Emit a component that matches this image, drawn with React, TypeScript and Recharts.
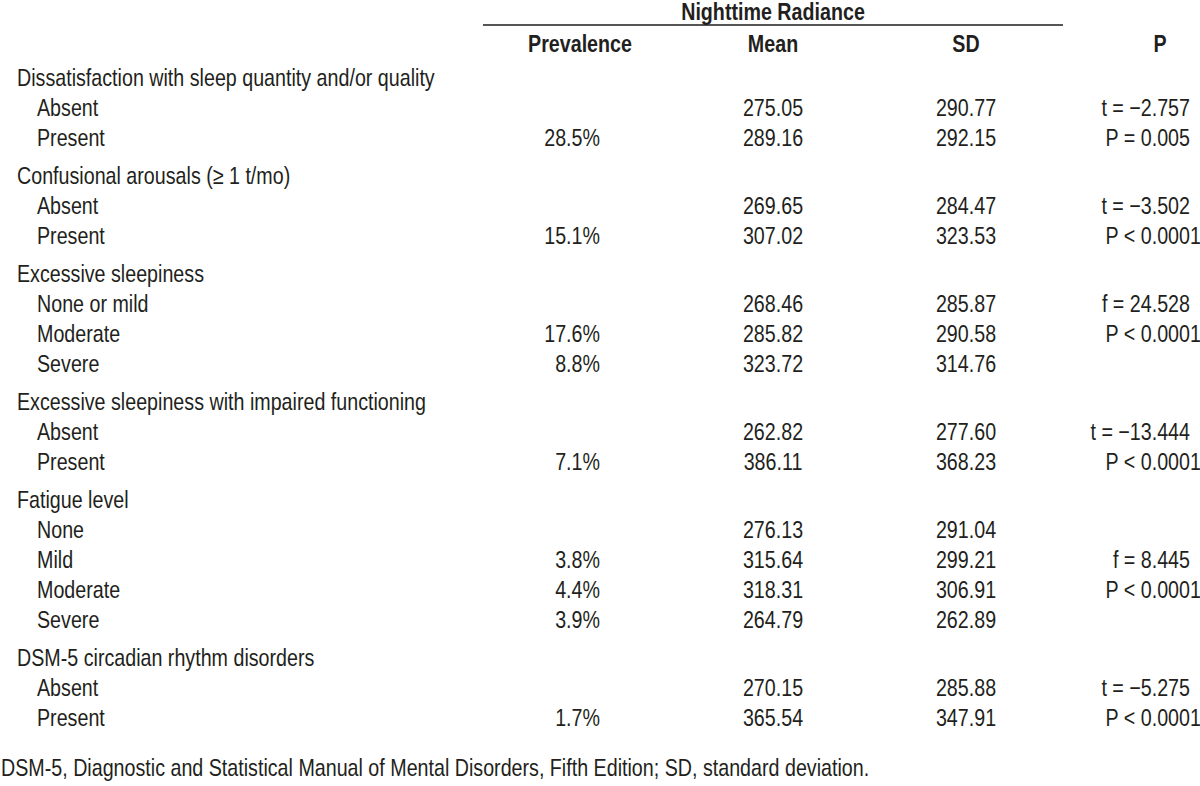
import { ReferenceLine, Scatter, ScatterChart, XAxis, YAxis } from "recharts";

// table content
const groups = [
  "Dissatisfaction with sleep quantity and/or quality",
  "Confusional arousals (≥ 1 t/mo)",
  "Excessive sleepiness",
  "Excessive sleepiness with impaired functioning",
  "Fatigue level",
  "DSM-5 circadian rhythm disorders",
];

const levels = [
  ["Absent", "Present"],
  ["Absent", "Present"],
  ["None or mild", "Moderate", "Severe"],
  ["Absent", "Present"],
  ["None", "Mild", "Moderate", "Severe"],
  ["Absent", "Present"],
];

const prevalence = [
  [null, 28.5],
  [null, 15.1],
  [null, 17.6, 8.8],
  [null, 7.1],
  [null, 3.8, 4.4, 3.9],
  [null, 1.7],
];

const means = [
  [275.05, 289.16],
  [269.65, 307.02],
  [268.46, 285.82, 323.72],
  [262.82, 386.11],
  [276.13, 315.64, 318.31, 264.79],
  [270.15, 365.54],
];

const sds = [
  [290.77, 292.15],
  [284.47, 323.53],
  [285.87, 290.58, 314.76],
  [277.6, 368.23],
  [291.04, 299.21, 306.91, 262.89],
  [285.88, 347.91],
];

const tests = [
  ["t = −2.757", "P = 0.005"],
  ["t = −3.502", "P < 0.0001"],
  ["f = 24.528", "P < 0.0001", null],
  ["t = −13.444", "P < 0.0001"],
  [null, "f = 8.445", "P < 0.0001", null],
  ["t = −5.275", "P < 0.0001"],
];

const spanHead = "Nighttime Radiance";
const columnHeads = ["Prevalence", "Mean", "SD", "P"];
const footnote =
  "DSM-5, Diagnostic and Statistical Manual of Mental Disorders, Fifth Edition; SD, standard deviation.";

// layout
const W = 1200;
const H = 786;
const PAD = 24;
const ROW = 30;
const FIRST_BASELINE = 86;
const GROUP_GAP = 8 / ROW;
const COL = { group: 17, level: 37, prev: 600, mean: 773, sd: 966, p: 1190 };
const HEAD_X = [580, 773, 966, 1160];
const FONT = "'Liberation Sans', Arial, sans-serif";
const NARROW = 0.82; // no Arial Narrow installed, squeeze Liberation Sans
const INK = "#231f20";
const DIGIT = 24 * 0.556 * NARROW;

type Cell = { x: number; y: number; text: string };

const groupCells: Cell[] = [];
const levelCells: Cell[] = [];
const prevCells: Cell[] = [];
const meanCells: Cell[] = [];
const sdCells: Cell[] = [];
const testCells: Cell[] = [];

let row = 0;
groups.forEach((g, gi) => {
  const off = gi * GROUP_GAP;
  groupCells.push({ x: COL.group, y: row + off, text: g });
  row++;
  levels[gi].forEach((lv, li) => {
    const y = row + off;
    levelCells.push({ x: COL.level, y, text: lv });
    const pv = prevalence[gi][li];
    if (pv != null) prevCells.push({ x: COL.prev, y, text: `${pv.toFixed(1)}%` });
    meanCells.push({ x: COL.mean, y, text: means[gi][li].toFixed(2) });
    sdCells.push({ x: COL.sd, y, text: sds[gi][li].toFixed(2) });
    const t = tests[gi][li];
    if (t) testCells.push({ x: COL.p, y, text: t });
    row++;
  });
});

const headCells: Cell[] = columnHeads.map((h, i) => ({ x: HEAD_X[i], y: -1.13, text: h }));
const spanCells: Cell[] = [{ x: 773, y: -2.2, text: spanHead }];
const noteCells: Cell[] = [{ x: 1, y: 23.0, text: footnote }];

const textShape =
  (anchor: "start" | "middle" | "end", weight: number | string = "normal", decimal = false) =>
  (props: any) => {
    const text: string = props.payload.text;
    let dx = 0;
    if (decimal) {
      const m = text.match(/\.(\d+)$/);
      if (m) dx = (m[1].length - 3) * DIGIT;
    }
    return (
      <text
        transform={`translate(${props.cx + dx},${props.cy}) scale(${NARROW},1)`}
        textAnchor={anchor}
        fontFamily={FONT}
        fontSize={24}
        fontWeight={weight}
        fill={INK}
      >
        {text}
      </text>
    );
  };

export default function App() {
  return (
    <div
      style={{
        position: "fixed",
        top: 0,
        left: 0,
        width: W,
        height: H,
        overflow: "hidden",
        background: "#fff",
      }}
    >
      <div style={{ position: "absolute", top: -PAD, left: -PAD }}>
        <ScatterChart
          width={W + 2 * PAD}
          height={H + 2 * PAD}
          margin={{ top: PAD, right: PAD, bottom: PAD, left: PAD }}
        >
          <XAxis type="number" dataKey="x" domain={[0, W]} hide />
          <YAxis
            type="number"
            dataKey="y"
            domain={[-FIRST_BASELINE / ROW, (H - FIRST_BASELINE) / ROW]}
            reversed
            hide
          />
          <ReferenceLine
            segment={[
              { x: 483, y: -2.03 },
              { x: 1063, y: -2.03 },
            ]}
            stroke="#555"
            strokeWidth={2}
            ifOverflow="visible"
          />
          <Scatter data={spanCells} shape={textShape("middle", "bold")} isAnimationActive={false} />
          <Scatter data={headCells} shape={textShape("middle", "bold")} isAnimationActive={false} />
          <Scatter data={groupCells} shape={textShape("start")} isAnimationActive={false} />
          <Scatter data={levelCells} shape={textShape("start")} isAnimationActive={false} />
          <Scatter data={prevCells} shape={textShape("end")} isAnimationActive={false} />
          <Scatter data={meanCells} shape={textShape("middle")} isAnimationActive={false} />
          <Scatter data={sdCells} shape={textShape("middle")} isAnimationActive={false} />
          <Scatter data={testCells} shape={textShape("end", "normal", true)} isAnimationActive={false} />
          <Scatter data={noteCells} shape={textShape("start")} isAnimationActive={false} />
        </ScatterChart>
      </div>
    </div>
  );
}
